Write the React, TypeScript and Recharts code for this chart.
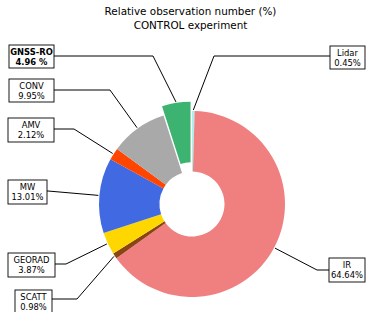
import React from "react";
import { Cell, Pie, PieChart } from "recharts";

const categories = ["Lidar", "IR", "SCATT", "GEORAD", "MW", "AMV", "CONV", "GNSS-RO"];
const shares = [0.45, 64.64, 0.98, 3.87, 13.01, 2.12, 9.95, 4.96];
const shareLabels = ["0.45%", "64.64%", "0.98%", "3.87%", "13.01%", "2.12%", "9.95%", "4.96 %"];
const colors = ["#AFEEEE", "#F08080", "#8B4513", "#FFD700", "#4169E1", "#FF4500", "#A9A9A9", "#3CB371"];
const exploded = "GNSS-RO";

// label boxes: box rect + x of the elbow on the leader line
const BOXES: Record<string, { x: number; y: number; w: number; h: number; elbow: number; ly: number }> = {
  Lidar: { x: 330, y: 46, w: 35, h: 23, elbow: 214, ly: 56 },
  IR: { x: 329, y: 258, w: 36, h: 24, elbow: 317, ly: 270 },
  SCATT: { x: 15, y: 290, w: 37, h: 24, elbow: 77, ly: 299 },
  GEORAD: { x: 8, y: 253, w: 47, h: 24, elbow: 66, ly: 264 },
  MW: { x: 8, y: 180, w: 39, h: 24, elbow: 48, ly: 191 },
  AMV: { x: 8, y: 118, w: 46, h: 24, elbow: 74, ly: 129 },
  CONV: { x: 9, y: 79, w: 45, h: 23, elbow: 110, ly: 90 },
  "GNSS-RO": { x: 9, y: 45, w: 45, h: 23, elbow: 153, ly: 56 },
};

const data = categories.map((name, i) => ({ name, value: shares[i], text: shareLabels[i] }));

const W = 367;
const H = 312;
const CX = 192;
const CY = 204;
const OUTER = 93;
const INNER = 32.5;
const FONT = "DejaVu Sans, sans-serif";

// shift of the exploded wedge (matplotlib explode=0.1)
const total = shares.reduce((a, b) => a + b, 0);
const exIdx = categories.indexOf(exploded);
const before = shares.slice(0, exIdx).reduce((a, b) => a + b, 0);
const midDeg = 90 - ((before + shares[exIdx] / 2) / total) * 360;
const SHIFT = 0.1 * OUTER;
const EX_CX = CX + Math.cos((midDeg * Math.PI) / 180) * SHIFT;
const EX_CY = CY - Math.sin((midDeg * Math.PI) / 180) * SHIFT;

function makeLabel(only: (name: string) => boolean) {
  return (props: any) => {
    const { cx, cy, midAngle, outerRadius, payload } = props;
    const name = payload?.name ?? props.name;
    if (!only(name)) return null;
    const b = BOXES[name];
    const rad = (-midAngle * Math.PI) / 180;
    const ax = cx + Math.cos(rad) * (outerRadius + 1);
    const ay = cy + Math.sin(rad) * (outerRadius + 1);
    const right = b.x > CX;
    const edge = right ? b.x : b.x + b.w;
    const bold = name === exploded;
    return (
      <g key={`lbl-${name}`}>
        <polyline points={`${ax},${ay} ${b.elbow},${b.ly} ${edge},${b.ly}`} fill="none" stroke="#000" strokeWidth={1} />
        <rect x={b.x} y={b.y} width={b.w} height={b.h} fill="#fff" stroke="#000" strokeWidth={0.9} />
        <text x={b.x + b.w / 2} textAnchor="middle" fontFamily={FONT} fontSize={8.4} fill="#000" fontWeight={bold ? "bold" : "normal"}>
          <tspan x={b.x + b.w / 2} y={b.y + 9.5}>{name}</tspan>
          <tspan x={b.x + b.w / 2} y={b.y + 19.5}>{payload?.text ?? ""}</tspan>
        </text>
      </g>
    );
  };
}

export default function App() {
  return (
    <div style={{ position: "absolute", left: 0, top: 0, width: W, height: H, background: "#fff" }}>
      <div
        style={{
          position: "absolute",
          left: 0,
          top: 4,
          width: 381,
          textAlign: "center",
          fontFamily: FONT,
          fontSize: 10.4,
          lineHeight: "14px",
          color: "#000",
        }}
      >
        Relative observation number (%)
        <br />
        CONTROL experiment
      </div>
      <PieChart width={W} height={H} margin={{ top: 0, right: 0, bottom: 0, left: 0 }}>
        <Pie
          data={data}
          dataKey="value"
          nameKey="name"
          cx={CX}
          cy={CY}
          innerRadius={INNER}
          outerRadius={OUTER}
          startAngle={90}
          endAngle={-270}
          stroke="none"
          labelLine={false}
          label={makeLabel((n) => n !== exploded)}
          isAnimationActive={false}
        >
          {data.map((d, i) => (
            <Cell key={d.name} fill={d.name === exploded ? "transparent" : colors[i]} />
          ))}
        </Pie>
        <Pie
          data={data}
          dataKey="value"
          nameKey="name"
          cx={EX_CX}
          cy={EX_CY}
          innerRadius={INNER}
          outerRadius={OUTER}
          startAngle={90}
          endAngle={-270}
          stroke="none"
          labelLine={false}
          label={makeLabel((n) => n === exploded)}
          isAnimationActive={false}
        >
          {data.map((d, i) => (
            <Cell key={d.name} fill={d.name === exploded ? colors[i] : "transparent"} />
          ))}
        </Pie>
      </PieChart>
    </div>
  );
}
